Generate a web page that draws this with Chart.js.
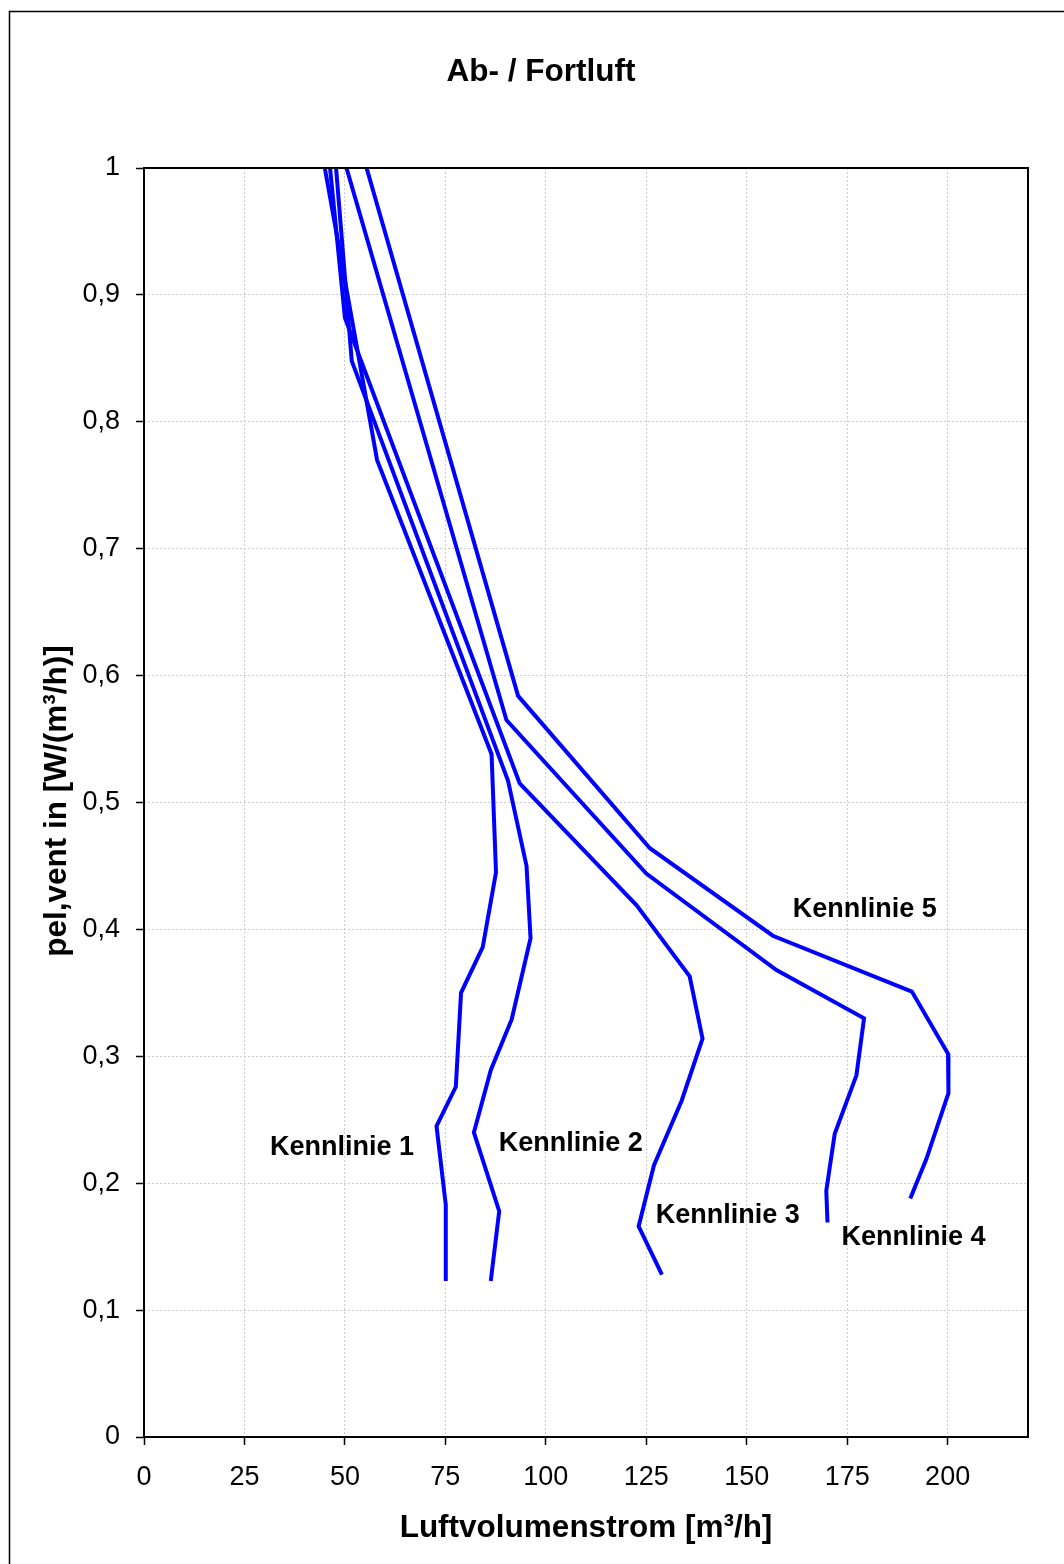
<!DOCTYPE html>
<html>
<head>
    <title>Ab- / Fortluft</title>
    <style>
        body { margin: 0; background: #fff; }
    </style>
</head>
<body>
    <canvas id="chartId" width="1064" height="1564"></canvas>

    <script src="https://cdn.jsdelivr.net/npm/chart.js@4.4.0/dist/chart.umd.min.js"></script>

    <script>
        // values (x = m³/h, y = W/(m³/h))
        var k1X = [45.0, 58.0, 86.5, 87.6, 84.3, 78.9, 77.6, 72.8, 75.1, 75.1];
        var k1Y = [1.0, 0.770, 0.538, 0.445, 0.386, 0.350, 0.276, 0.245, 0.183, 0.123];
        var k2X = [47.8, 51.7, 90.6, 95.2, 96.2, 91.5, 86.3, 82.1, 88.4, 86.3];
        var k2Y = [1.0, 0.848, 0.517, 0.450, 0.393, 0.329, 0.289, 0.240, 0.178, 0.123];
        var k3X = [46.3, 50.0, 93.5, 122.6, 135.8, 139.0, 133.8, 126.9, 123.1, 128.9];
        var k3Y = [1.0, 0.882, 0.515, 0.419, 0.363, 0.314, 0.265, 0.214, 0.166, 0.128];
        var k4X = [50.4, 90.2, 125.0, 157.4, 179.2, 177.3, 171.9, 169.8, 170.1];
        var k4Y = [1.0, 0.565, 0.444, 0.368, 0.330, 0.285, 0.239, 0.194, 0.169];
        var k5X = [55.4, 93.1, 125.9, 156.5, 191.1, 200.1, 200.2, 194.7, 190.7];
        var k5Y = [1.0, 0.584, 0.464, 0.395, 0.351, 0.302, 0.271, 0.219, 0.188];

        var curveNames = ["Kennlinie 1", "Kennlinie 2", "Kennlinie 3", "Kennlinie 4", "Kennlinie 5"];
        // where each curve name sits, in data units
        var nameX = [49.3, 106.2, 145.3, 191.5, 179.4];
        var nameY = [0.230, 0.233, 0.176, 0.159, 0.4175];

        var xTickLabels = ["0", "25", "50", "75", "100", "125", "150", "175", "200"];
        var yTickLabels = ["0", "0,1", "0,2", "0,3", "0,4", "0,5", "0,6", "0,7", "0,8", "0,9", "1"];

        var chartTitle = "Ab- / Fortluft";
        var xTitle = "Luftvolumenstrom [m³/h]";
        var yTitle = "pel,vent in [W/(m³/h)]";

        function pts(xs, ys) {
            return xs.map((v, i) => ({ x: v, y: ys[i] }));
        }

        var allX = [k1X, k2X, k3X, k4X, k5X];
        var allY = [k1Y, k2Y, k3Y, k4Y, k5Y];

        Chart.defaults.font.family = '"Liberation Sans", Arial, sans-serif';
        Chart.defaults.color = '#000';

        var decor = {
            id: 'decor',
            beforeDraw(chart) {
                var ctx = chart.ctx;
                ctx.save();
                ctx.fillStyle = '#fff';
                ctx.fillRect(0, 0, chart.width, chart.height);
                ctx.restore();
            },
            afterDraw(chart) {
                var ctx = chart.ctx;
                var a = chart.chartArea;
                var sx = chart.scales.x, sy = chart.scales.y;
                ctx.save();
                // outer frame (only top and left are visible)
                ctx.strokeStyle = '#000';
                ctx.lineWidth = 1.5;
                ctx.beginPath();
                ctx.moveTo(9.5, 1564);
                ctx.lineTo(9.5, 11.5);
                ctx.lineTo(1064, 11.5);
                ctx.stroke();
                // plot frame
                ctx.lineWidth = 2;
                ctx.strokeRect(a.left, a.top, a.right - a.left, a.bottom - a.top);

                ctx.fillStyle = '#000';
                ctx.textAlign = 'center';
                ctx.textBaseline = 'alphabetic';
                ctx.font = 'bold 31.5px "Liberation Sans"';
                ctx.fillText(chartTitle, 541, 81);
                ctx.fillText(xTitle, 586, 1537);
                ctx.save();
                ctx.translate(66, 801);
                ctx.rotate(-Math.PI / 2);
                ctx.fillText(yTitle, 0, 0);
                ctx.restore();

                ctx.font = 'bold 27px "Liberation Sans"';
                curveNames.forEach((n, i) => {
                    ctx.fillText(n, sx.getPixelForValue(nameX[i]), sy.getPixelForValue(nameY[i]) + 9.5);
                });
                ctx.restore();
            }
        };

        var chrt = document.getElementById("chartId").getContext("2d");
        var chartId = new Chart(chrt, {
            type: 'scatter',
            data: {
                datasets: curveNames.map((n, i) => ({
                    label: n,
                    data: pts(allX[i], allY[i]),
                    showLine: true,
                    borderColor: '#0000ff',
                    borderWidth: 4,
                    pointRadius: 0,
                    fill: false
                }))
            },
            options: {
                responsive: false,
                animation: false,
                devicePixelRatio: 1,
                layout: { padding: { top: 168, right: 36, bottom: 27, left: 0 } },
                plugins: {
                    legend: { display: false },
                    tooltip: { enabled: false }
                },
                scales: {
                    x: {
                        type: 'linear',
                        position: 'bottom',
                        min: 0,
                        max: 220,
                        afterFit: s => { s.height = 100; },
                        afterBuildTicks: s => { s.ticks = s.ticks.filter(t => t.value <= 200); },
                        ticks: {
                            stepSize: 25,
                            padding: 16,
                            font: { size: 27 },
                            maxRotation: 0,
                            callback: (v, i) => xTickLabels[i]
                        },
                        grid: { color: '#cccccc', lineWidth: 1, tickColor: '#000', tickLength: 8, tickWidth: 1.5 },
                        border: { display: false, dash: [2, 2] }
                    },
                    y: {
                        type: 'linear',
                        min: 0,
                        max: 1,
                        afterFit: s => { s.width = 144; },
                        ticks: {
                            stepSize: 0.1,
                            padding: 16,
                            font: { size: 27 },
                            callback: (v, i) => yTickLabels[i]
                        },
                        grid: { color: '#cccccc', lineWidth: 1, tickColor: '#000', tickLength: 8, tickWidth: 1.5 },
                        border: { display: false, dash: [2, 2] }
                    }
                }
            },
            plugins: [decor]
        });
    </script>
</body>
</html>
